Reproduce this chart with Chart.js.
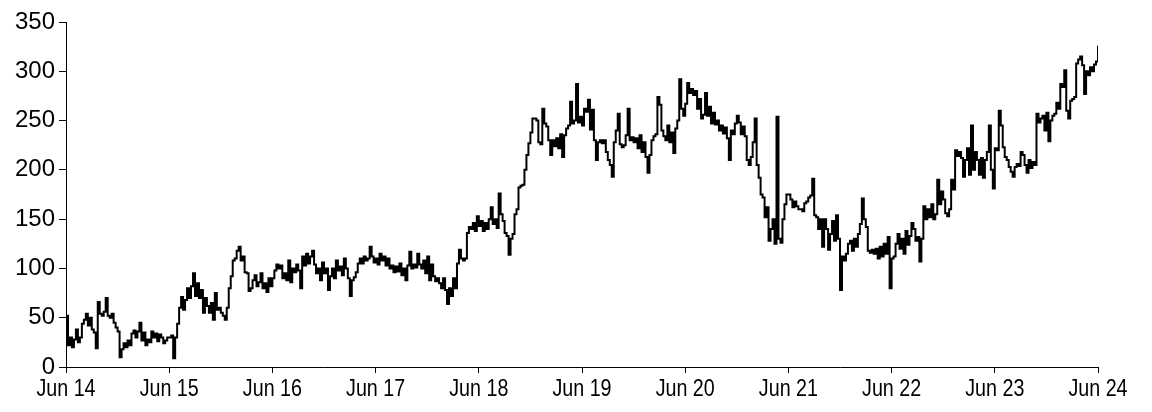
<!DOCTYPE html>
<html>
<head>
<meta charset="utf-8">
<script src="https://cdn.jsdelivr.net/npm/chart.js@4"></script>
<style>
    html, body { margin: 0; padding: 0; background: #fff; }
    #chart { display: block; }
</style>
</head>
<body>
<canvas id="chart" width="1152" height="412"></canvas>
<script>
// Weekly readings, one array per year (each starts in June)
const jun14 = [52,22,30,20,28,38,25,30,44,48, 54,42,50,38,35,19,66,54,52,56, 70,52,50,54,45,40,36,10,18,24, 20,27,22,34,37,30,36,45,27,35, 22,28,25,36,30,34,26,33,30,24, 27,30];
const jun15 = [30,32,9,30,44,60,71,58,68,80, 70,82,95,72,85,70,78,55,70,62, 55,65,48,75,58,60,55,52,48,60, 80,92,108,110,118,122,108,112,96,95, 77,80,88,93,82,86,95,80,85,76, 90,82];
const jun16 = [90,98,104,100,103,90,95,88,108,86, 100,96,104,98,80,112,103,115,105,112, 118,104,95,100,88,106,95,100,78,92, 100,90,108,98,102,93,110,100,90,72, 88,91,96,105,110,105,112,108,110,122, 112,106];
const jun17 = [110,104,115,108,112,103,110,100,103,96, 102,97,105,93,100,88,103,117,100,104, 101,115,104,100,108,95,112,88,104,92, 87,90,85,80,90,78,64,80,72,90, 80,105,119,110,108,110,136,142,140,146, 138,153];
const jun18 = [143,148,138,146,140,150,162,145,150,141, 176,155,148,136,133,114,130,135,155,160, 182,184,185,200,215,227,238,252,252,250, 228,226,262,247,244,230,215,230,224,232, 222,236,213,235,242,245,269,247,250,287, 248,254];
const jun19 = [245,262,259,271,241,261,230,210,228,230, 227,230,218,210,205,193,228,240,257,226, 223,225,235,262,230,233,228,232,222,235, 218,228,213,197,215,230,234,236,274,266, 240,234,230,245,228,238,217,242,250,292, 262,255];
const jun20 = [267,288,278,282,276,280,262,272,252,256, 278,255,264,247,258,246,250,240,245,237, 243,232,210,240,236,247,255,248,236,244, 234,210,205,213,228,252,205,192,175,172, 152,162,128,140,150,125,254,130,126,150, 165,175];
const jun21 = [175,170,162,168,163,160,160,158,166,168, 172,174,191,154,152,140,150,122,150,140, 119,135,148,128,154,130,78,112,108,115, 125,128,118,130,122,135,145,171,150,142, 118,116,119,115,120,110,122,112,125,115, 132,80];
const jun22 = [110,112,125,135,120,130,115,138,124,133, 146,140,128,132,107,130,163,150,160,152, 165,150,155,190,165,178,170,156,153,160, 190,180,220,214,218,212,193,210,222,195, 245,200,218,210,195,212,192,210,218,245, 200,181];
const jun23 = [222,220,260,245,223,213,210,203,198,193, 203,206,204,218,215,205,197,210,202,208, 205,257,248,252,255,240,258,229,250,255, 257,268,262,287,284,301,260,252,270,272, 274,308,312,315,306,277,300,296,304,300, 307,310];
const lastValue = 326; // Jun 24

const tickLabels = ['Jun 14', 'Jun 15', 'Jun 16', 'Jun 17', 'Jun 18', 'Jun 19', 'Jun 20', 'Jun 21', 'Jun 22', 'Jun 23', 'Jun 24'];
const yTicks = [0, 50, 100, 150, 200, 250, 300, 350];
const weeksPerYear = 52;

// Build points: x = week number since Jun 14
const allValues = [].concat(jun14, jun15, jun16, jun17, jun18, jun19, jun20, jun21, jun22, jun23, [lastValue]);
const points = allValues.map((v, i) => ({ x: i, y: v }));

const fontFamily = "'Liberation Sans', Arial, sans-serif";

// Date labels in the reference use a condensed face, so squeeze them horizontally
const narrowLabels = {
    id: 'narrowLabels',
    afterDraw(chart) {
        const scale = chart.scales.x;
        const ctx = chart.ctx;
        ctx.save();
        ctx.font = `24px ${fontFamily}`;
        ctx.fillStyle = '#000';
        ctx.textAlign = 'center';
        ctx.textBaseline = 'middle';
        scale.ticks.forEach((tick, i) => {
            const x = scale.getPixelForValue(tick.value);
            ctx.save();
            ctx.translate(x, scale.top + 22);
            ctx.scale(0.82, 1);
            ctx.fillText(tickLabels[i], 0, 0);
            ctx.restore();
        });
        ctx.restore();
    }
};

new Chart(document.getElementById('chart'), {
    type: 'line',
    data: {
        datasets: [{
            data: points,
            borderColor: '#000',
            borderWidth: 2,
            pointRadius: 0,
            stepped: true,
            fill: false
        }]
    },
    options: {
        responsive: false,
        animation: false,
        devicePixelRatio: 1,
        layout: { padding: { left: 0, right: 54, top: 22, bottom: 0 } },
        plugins: { legend: { display: false }, tooltip: { enabled: false } },
        scales: {
            x: {
                type: 'linear',
                min: 0,
                max: weeksPerYear * (tickLabels.length - 1),
                afterBuildTicks: (scale) => {
                    scale.ticks = tickLabels.map((_, i) => ({ value: i * weeksPerYear }));
                },
                afterFit: (scale) => { scale.height = 45; },
                ticks: { display: false },
                grid: { drawOnChartArea: false, drawTicks: true, tickLength: 6, color: '#000' },
                border: { display: true, color: '#000', width: 1 }
            },
            y: {
                min: 0,
                max: 350,
                afterBuildTicks: (scale) => {
                    scale.ticks = yTicks.map(v => ({ value: v }));
                },
                afterFit: (scale) => { scale.width = 66; },
                ticks: {
                    color: '#000',
                    font: { family: fontFamily, size: 24 },
                    padding: 4
                },
                grid: { drawOnChartArea: false, drawTicks: true, tickLength: 7, color: '#000' },
                border: { display: true, color: '#000', width: 1 }
            }
        }
    },
    plugins: [narrowLabels]
});
</script>
</body>
</html>
